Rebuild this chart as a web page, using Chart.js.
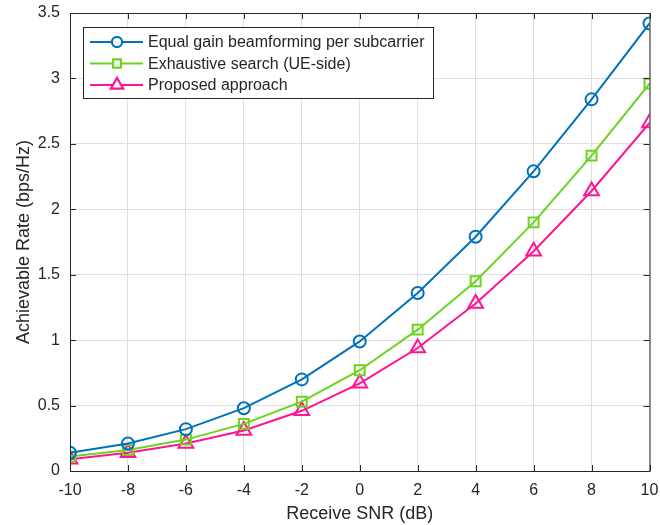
<!DOCTYPE html>
<html><head><meta charset="utf-8">
<script src="https://cdn.jsdelivr.net/npm/chart.js@4"></script>
<style>html,body{margin:0;padding:0;background:#fff}#w{width:660px;height:525px}</style>
</head><body><div id="w"><canvas id="c"></canvas></div>
<script>
const snr = [-10,-8,-6,-4,-2,0,2,4,6,8,10];
const equalGain = [0.14,0.21,0.32,0.48,0.70,0.99,1.36,1.79,2.29,2.84,3.42];
const exhaustive = [0.11,0.16,0.24,0.36,0.53,0.77,1.08,1.45,1.90,2.41,2.96];
const proposed = [0.09,0.14,0.21,0.31,0.46,0.67,0.94,1.28,1.68,2.14,2.66];
const seriesLabels = ['Equal gain beamforming per subcarrier','Exhaustive search (UE-side)','Proposed approach'];
const xTitle = 'Receive SNR (dB)';
const yTitle = 'Achievable Rate (bps/Hz)';

const FONT = '"Liberation Sans", Arial, Helvetica, sans-serif';
const TXT = '#262626';
const toXY = a => a.map((v,i)=>({x:snr[i], y:v}));
const mk = (label, data, color, style, r, lr) => ({
  label, data: toXY(data), borderColor: color, backgroundColor: '#fff',
  borderWidth: 2, pointStyle: style, pointRadius: r, pointBorderWidth: 2, legendRadius: lr,
  pointBorderColor: color, pointBackgroundColor: 'rgba(255,255,255,0)', tension: 0
});

const framePlugin = {
  id: 'frame',
  afterDatasetsDraw(chart) {
    const {ctx, chartArea: a, scales} = chart;
    ctx.save();
    ctx.strokeStyle = TXT; ctx.lineWidth = 1;
    ctx.strokeRect(a.left+0.5, a.top+0.5, a.right-a.left, a.bottom-a.top);
    const tl = 6;
    ctx.beginPath();
    scales.x.ticks.forEach(t => {
      const px = Math.round(scales.x.getPixelForValue(t.value))+0.5;
      ctx.moveTo(px, a.bottom); ctx.lineTo(px, a.bottom-tl);
      ctx.moveTo(px, a.top); ctx.lineTo(px, a.top+tl);
    });
    scales.y.ticks.forEach(t => {
      const py = Math.round(scales.y.getPixelForValue(t.value))+0.5;
      ctx.moveTo(a.left, py); ctx.lineTo(a.left+tl, py);
      ctx.moveTo(a.right, py); ctx.lineTo(a.right-tl, py);
    });
    ctx.stroke();
    // legend
    const bx = 83.5, by = 27.5, bw = 350, bh = 71;
    ctx.fillStyle = '#fff'; ctx.fillRect(bx, by, bw, bh);
    ctx.strokeStyle = TXT; ctx.strokeRect(bx, by, bw, bh);
    ctx.font = '16px ' + FONT; ctx.textBaseline = 'middle'; ctx.textAlign = 'left';
    chart.data.datasets.forEach((ds, i) => {
      const y = 42 + i*21.5;
      ctx.strokeStyle = ds.borderColor; ctx.lineWidth = 2;
      ctx.beginPath(); ctx.moveTo(90, y); ctx.lineTo(143, y); ctx.stroke();
      Chart.helpers.drawPoint(ctx, {pointStyle: ds.pointStyle, radius: ds.legendRadius, borderWidth: 2}, 117, y);
      ctx.fillStyle = '#fff';
      ctx.fill();
      ctx.stroke();
      ctx.fillStyle = TXT;
      ctx.fillText(ds.label, 148, y+1);
    });
    ctx.restore();
  }
};

new Chart(document.getElementById('c'), {
  type: 'line',
  data: { datasets: [
    mk(seriesLabels[0], equalGain, '#0072BD', 'circle', 6, 5),
    mk(seriesLabels[1], exhaustive, '#6CD41E', 'rect', 7, 5.5),
    mk(seriesLabels[2], proposed, '#FF1493', 'triangle', 8.5, 7)
  ]},
  options: {
    responsive: true, maintainAspectRatio: false, animation: false,
    layout: { padding: { left: 13, right: 10, top: 13, bottom: 0 } },
    plugins: { legend: { display: false }, tooltip: { enabled: false } },
    scales: {
      x: {
        type: 'linear', min: -10, max: 10,
        ticks: { stepSize: 2, color: TXT, font: { family: FONT, size: 16 }, padding: 10, maxRotation: 0 },
        grid: { color: '#dfdfdf', drawTicks: false },
        border: { display: false },
        title: { display: true, text: xTitle, color: TXT, font: { family: FONT, size: 18 }, padding: { top: 2, bottom: 0 } },
        afterFit(s) { s.height = 54; s.paddingRight = 0; s.paddingLeft = 0; }
      },
      y: {
        min: 0, max: 3.5,
        ticks: { stepSize: 0.5, color: TXT, font: { family: FONT, size: 16 }, padding: 10,
                 callback: v => String(Math.round(v*10)/10) },
        grid: { color: '#dfdfdf', drawTicks: false },
        border: { display: false },
        title: { display: true, text: yTitle, color: TXT, font: { family: FONT, size: 18 }, padding: { top: 0, bottom: 4 } },
        afterFit(s) { s.width = 57; s.paddingTop = 0; s.paddingBottom = 0; }
      }
    }
  },
  plugins: [framePlugin]
});
</script>
</body></html>
